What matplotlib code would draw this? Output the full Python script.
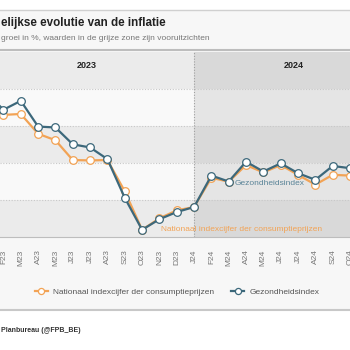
"""Maandelijkse evolutie van de inflatie (FPB), cropped view."""
import matplotlib
matplotlib.use("Agg")
import matplotlib.pyplot as plt
from matplotlib.patches import Rectangle
from matplotlib.lines import Line2D

plt.rcParams['font.family'] = ['Liberation Sans', 'DejaVu Sans']

months = ["J23", "F23", "M23", "A23", "M23", "J23", "J23", "A23", "S23", "O23", "N23", "D23",
          "J24", "F24", "M24", "A24", "M24", "J24", "J24", "A24", "S24", "O24"]
cpi = [4.8, 4.6, 4.65, 3.58, 3.23, 2.16, 2.14, 2.16, 0.47, -1.61, -0.99, -0.56,
       -0.38, 1.2, 0.99, 1.89, 1.49, 1.89, 1.36, 0.83, 1.36, 1.32]
health = [5.8, 4.88, 5.36, 3.97, 3.92, 3.01, 2.84, 2.21, 0.12, -1.61, -1.04, -0.65,
          -0.38, 1.32, 1.0, 2.07, 1.54, 1.98, 1.45, 1.09, 1.84, 1.72]
years = ["2023", "2024"]
forecast_start = 12  # index of J24

W, H = 350, 350
fig = plt.figure(figsize=(3.5, 3.5), dpi=100)
fig.patch.set_facecolor("white")

def fy(px):
    return 1 - px / H

# chart box background and border lines
fig.patches.append(Rectangle((0, fy(310)), 1, fy(10) - fy(310), transform=fig.transFigure,
                             facecolor="#f7f7f7", edgecolor="none", zorder=-5))
fig.add_artist(Line2D([0, 1], [fy(10), fy(10)], color="#d0d0d0", lw=1, zorder=-4))
fig.add_artist(Line2D([0, 1], [fy(50), fy(50)], color="#bdbdbd", lw=1.5, zorder=-4))
fig.add_artist(Line2D([0, 1], [fy(310), fy(310)], color="#c8c8c8", lw=1.5, zorder=-4))

fig.text(1 / W, fy(23), "elijkse evolutie van de inflatie", ha="left", va="center",
         fontsize=8.4, fontweight="bold", color="#222222")
fig.text(1 / W, fy(39), "groei in %, waarden in de grijze zone zijn vooruitzichten",
         ha="left", va="center", fontsize=6, color="#777777")
fig.text(1 / W, fy(331), "Planbureau (@FPB_BE)", ha="left", va="center",
         fontsize=5, fontweight="bold", color="#333333")

ax = fig.add_axes([0, fy(237), 1, fy(52) - fy(237)])
ax.set_zorder(1)
x = list(range(len(months)))
x0, x1 = 0.8, 21.0

# horizontal bands, lighter for 2023, darker for forecast zone
split = (forecast_start - x0) / (x1 - x0)
for k, lo in enumerate(range(-2, 8, 2)):
    grey = k % 2 == 0
    ax.axhspan(lo, lo + 2, xmin=0, xmax=split,
               color="#ebebeb" if grey else "#f9f9f9", lw=0, zorder=0)
    ax.axhspan(lo, lo + 2, xmin=split, xmax=1,
               color="#d9d9d9" if grey else "#e5e5e5", lw=0, zorder=0)
for g in [0, 2, 4, 6]:
    ax.axhline(g, color="#c8c8c8", lw=0.8, ls=(0, (1, 1.5)), zorder=1)
ax.axvline(forecast_start, color="#a0a0a0", lw=0.8, ls=(0, (1, 1.5)), zorder=1)

ax.text(5.8, 7.28, years[0], ha="center", va="center", fontsize=6.5, fontweight="bold", color="#222222")
ax.text(17.75, 7.28, years[1], ha="center", va="center", fontsize=6.5, fontweight="bold", color="#222222")

orange = "#f2a355"
blue = "#3c687b"
ax.plot(x, cpi, color=orange, lw=1.6, marker="o", ms=5.5, mfc="white", mec=orange, mew=0.9,
        zorder=3, label="Nationaal indexcijfer der consumptieprijzen")
ax.plot(x, health, color=blue, lw=1.6, marker="o", ms=5.5, mfc="white", mec=blue, mew=0.9,
        zorder=4, label="Gezondheidsindex")

ax.text(14.36, 0.88, "Gezondheidsindex", ha="left", va="center", fontsize=6, color="#5a8498", zorder=5)
ax.text(10.11, -1.57, "Nationaal indexcijfer der consumptieprijzen", ha="left", va="center",
        fontsize=6, color=orange, zorder=5)

ax.set_xticks(x)
ax.set_xticklabels(months, rotation=90, fontsize=6, color="#777777")
ax.tick_params(axis="x", length=0, pad=9)
ax.set_yticks([])
ax.set_xlim(x0, x1)
ax.set_ylim(-2, 8)
for s in ax.spines.values():
    s.set_visible(False)
ax.spines["bottom"].set_visible(True)
ax.spines["bottom"].set_color("#bdbdbd")

fig.legend(loc="center", bbox_to_anchor=(177 / W, fy(292)), ncol=2, frameon=False,
           fontsize=6, handlelength=1.6, columnspacing=2.0, handletextpad=0.6,
           labelcolor="#555555", markerscale=0.8)

fig.savefig("out.png", dpi=100)
